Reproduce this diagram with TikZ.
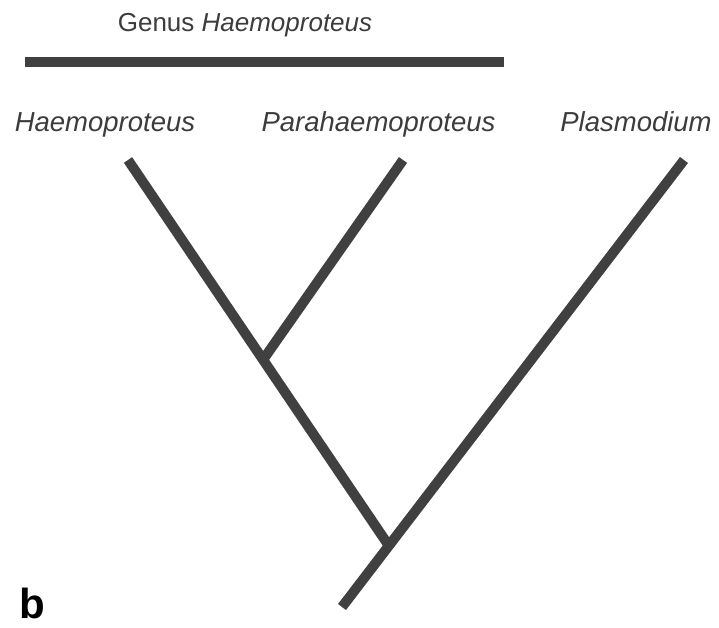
\documentclass[tikz,border=0pt]{standalone}
\usepackage{fontspec}
\setmainfont{Liberation Sans}
\definecolor{branch}{HTML}{404040}
\definecolor{txt}{HTML}{3C3C3C}
\begin{document}
\begin{tikzpicture}[x=1pt,y=-1pt,
  lbl/.style={anchor=base,inner sep=0pt,text=txt,font=\fontsize{27.5}{30}\selectfont\itshape},
  branchline/.style={draw=branch,line width=10pt,line cap=butt}]
\useasboundingbox (0,0) rectangle (719,628);
% header
\node[lbl,font=\fontsize{26}{30}\selectfont] (genus) at (245,32) {Genus \textit{Haemoproteus}};
\coordinate (barL) at (25,62);
\coordinate (barR) at (504,62);
\draw[branchline] (barL) -- (barR);
% labels
\node[lbl] (haem) at (105,132) {Haemoproteus};
\node[lbl] (para) at (378.5,132) {Parahaemoproteus};
\node[lbl] (plas) at (636,132) {Plasmodium};
% tree
\coordinate (tH) at (128,160);
\coordinate (tP) at (403,160);
\coordinate (tL) at (684,160);
\coordinate (j1) at (265,357);
\coordinate (j2) at (387,543);
\coordinate (root) at (342,607);
\draw[branchline] (tH) -- (j2);
\draw[branchline] (tP) -- (j1);
\draw[branchline] (tL) -- (root);
% panel letter
\node[anchor=base west,inner sep=0pt,font=\fontsize{42}{48}\selectfont\bfseries] (b) at (19,618) {b};
\end{tikzpicture}
\end{document}
